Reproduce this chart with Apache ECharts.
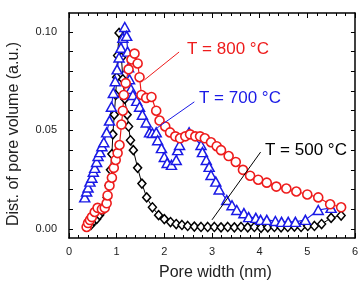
<!DOCTYPE html>
<html>
<head>
<meta charset="utf-8">
<script src="https://cdn.jsdelivr.net/npm/echarts@6/dist/echarts.min.js"></script>
<style>
  html, body { margin: 0; padding: 0; background: #fff; }
  #chart { width: 361px; height: 281px; }
</style>
</head>
<body>
<div id="chart"></div>
<script>
// pore width (nm) / distribution of pore volume (a.u.)
const blackX = [0.46,0.52,0.58,0.64,0.70,0.76,0.80,0.84,0.87,0.90,0.92,0.95,0.98,1.00,1.02,1.05,1.10,1.13,1.17,1.22,1.25,1.29,1.35,1.44,1.53,1.63,1.75,1.88,2.00,2.13,2.25,2.37,2.49,2.63,2.77,2.91,3.05,3.19,3.33,3.47,3.61,3.75,3.89,4.03,4.17,4.31,4.45,4.59,4.73,4.87,5.01,5.15,5.30,5.50,5.71];
const blackY = [0.002,0.004,0.005,0.007,0.009,0.012,0.016,0.022,0.030,0.038,0.048,0.058,0.068,0.077,0.088,0.0995,0.087,0.076,0.066,0.058,0.052,0.045,0.040,0.031,0.023,0.016,0.011,0.007,0.005,0.0035,0.0025,0.002,0.0015,0.0012,0.001,0.001,0.001,0.0008,0.001,0.0008,0.001,0.0008,0.001,0.0006,0.0008,0.001,0.0008,0.001,0.0012,0.001,0.0015,0.0015,0.0025,0.0056,0.0068];

const blueX = [0.33,0.37,0.40,0.44,0.48,0.51,0.54,0.58,0.61,0.65,0.69,0.73,0.79,0.85,0.89,0.93,0.97,1.01,1.05,1.09,1.13,1.17,1.21,1.23,1.25,1.27,1.30,1.34,1.42,1.48,1.54,1.62,1.69,1.75,1.83,1.86,1.94,2.00,2.06,2.15,2.25,2.28,2.32,2.52,2.77,2.80,2.88,2.94,2.98,3.08,3.15,3.31,3.42,3.52,3.67,3.77,3.92,4.02,4.15,4.33,4.46,4.60,4.75,4.96,5.23,5.50];
const blueY = [0.016,0.019,0.021,0.024,0.026,0.029,0.031,0.034,0.037,0.039,0.042,0.044,0.049,0.055,0.062,0.069,0.075,0.081,0.087,0.092,0.097,0.1025,0.098,0.090,0.082,0.076,0.071,0.068,0.065,0.062,0.058,0.054,0.049,0.0487,0.049,0.045,0.041,0.0365,0.0335,0.0325,0.035,0.040,0.0426,0.049,0.0426,0.039,0.035,0.0315,0.0274,0.024,0.020,0.0147,0.012,0.0096,0.008,0.006,0.0056,0.0046,0.0046,0.004,0.0036,0.0036,0.0036,0.0046,0.0096,0.0107];

const redX = [0.37,0.40,0.44,0.48,0.54,0.60,0.69,0.75,0.79,0.81,0.85,0.90,0.94,0.98,1.02,1.06,1.10,1.13,1.15,1.19,1.25,1.31,1.375,1.44,1.48,1.52,1.62,1.73,1.83,1.90,2.02,2.12,2.23,2.33,2.44,2.54,2.65,2.75,2.85,2.98,3.10,3.19,3.35,3.50,3.65,3.80,3.97,4.15,4.35,4.56,4.77,5.00,5.23,5.48,5.71];
const redY = [0.001,0.003,0.0045,0.006,0.0086,0.0107,0.010,0.0107,0.013,0.017,0.022,0.026,0.031,0.035,0.0385,0.0426,0.053,0.060,0.068,0.074,0.081,0.086,0.089,0.084,0.077,0.068,0.0665,0.067,0.060,0.055,0.052,0.049,0.047,0.046,0.047,0.048,0.047,0.047,0.046,0.044,0.042,0.040,0.037,0.034,0.030,0.027,0.025,0.0235,0.0215,0.0205,0.019,0.0175,0.016,0.0125,0.011];

const yLabelValues = [0, 0.05, 0.10];
const yTickValues = [0,0.01,0.02,0.03,0.04,0.05,0.06,0.07,0.08,0.09,0.10];

// pointer lines for the labels, in data units [x, y]
const redPointer = [[2.31, 0.0898], [1.58, 0.0756]];
const bluePointer = [[2.63, 0.0645], [1.85, 0.0513]];
const blackPointer = [[4.02, 0.039], [3.00, 0.0046]];

const RED = '#ee1c1c';
const BLUE = '#1a1ae6';
const BLACK = '#000';
const FONT = 'Liberation Sans, Arial, sans-serif';

const pairs = (xs, ys) => xs.map((x, i) => [x, ys[i]]);

const myChart = echarts.init(document.getElementById('chart'), null, { renderer: 'canvas' });

const xBase = {
  type: 'value',
  min: 0,
  max: 6,
  interval: 1,
  axisLine: { onZero: false, lineStyle: { color: BLACK, width: 1.5 } },
  axisTick: { inside: true, length: 5, lineStyle: { color: BLACK, width: 1 } },
  minorTick: { show: true, splitNumber: 5, length: 3, lineStyle: { color: BLACK, width: 1 } },
  splitLine: { show: false }
};

const yBase = {
  type: 'value',
  min: -0.0046,
  max: 0.1096,
  axisLine: { onZero: false, lineStyle: { color: BLACK, width: 1.5 } },
  axisTick: { inside: true, length: 4, customValues: yTickValues, lineStyle: { color: BLACK, width: 1 } },
  splitLine: { show: false }
};

const pointer = (pts, color) => ({
  silent: true,
  symbol: 'none',
  label: { show: false },
  lineStyle: { color: color, width: 1, type: 'solid' },
  data: [[{ coord: pts[0] }, { coord: pts[1] }]]
});

const option = {
  animation: false,
  backgroundColor: '#fff',
  grid: { left: 69, right: 4, top: 13, bottom: 43 },
  xAxis: [
    Object.assign({}, xBase, {
      position: 'bottom',
      axisLabel: { color: '#222', fontSize: 11, fontFamily: FONT, margin: 8 }
    }),
    Object.assign({}, xBase, { position: 'top', axisLabel: { show: false } })
  ],
  yAxis: [
    Object.assign({}, yBase, {
      position: 'left',
      axisLabel: {
        color: '#222', fontSize: 11, fontFamily: FONT, margin: 12,
        customValues: yLabelValues,
        formatter: v => v.toFixed(2)
      }
    }),
    Object.assign({}, yBase, { position: 'right', axisLabel: { show: false } })
  ],
  series: [
    {
      name: 'T = 500 °C',
      type: 'line',
      data: pairs(blackX, blackY),
      symbol: 'diamond',
      symbolSize: [8, 9],
      lineStyle: { color: BLACK, width: 1 },
      itemStyle: { color: '#fff', borderColor: BLACK, borderWidth: 1.5 },
      markLine: pointer(blackPointer, BLACK)
    },
    {
      name: 'T = 700 °C',
      type: 'line',
      data: pairs(blueX, blueY),
      symbol: 'triangle',
      symbolSize: [10, 9],
      lineStyle: { color: BLUE, width: 1.2 },
      itemStyle: { color: '#fff', borderColor: BLUE, borderWidth: 1.5 },
      markLine: pointer(bluePointer, BLUE)
    },
    {
      name: 'T = 800 °C',
      type: 'line',
      data: pairs(redX, redY),
      symbol: 'circle',
      symbolSize: 9,
      lineStyle: { color: RED, width: 1.2 },
      itemStyle: { color: '#fff', borderColor: RED, borderWidth: 1.6 },
      markLine: pointer(redPointer, RED)
    }
  ],
  graphic: [
    {
      type: 'text', left: 187, top: 41,
      style: { text: 'T = 800 °C', fill: RED, font: '17px ' + FONT }
    },
    {
      type: 'text', left: 199, top: 90,
      style: { text: 'T = 700 °C', fill: BLUE, font: '17px ' + FONT }
    },
    {
      type: 'text', left: 265, top: 142,
      style: { text: 'T = 500 °C', fill: BLACK, font: '17px ' + FONT }
    },
    {
      type: 'text', x: 159, y: 265,
      style: { text: 'Pore width (nm)', fill: '#222', font: '16px ' + FONT }
    },
    {
      type: 'text', x: 6, y: 226, rotation: Math.PI / 2,
      style: { text: 'Dist. of pore volume (a.u.)', fill: '#222', font: '16px ' + FONT }
    }
  ]
};

if (option && typeof option === 'object') {
  myChart.setOption(option);
}
</script>
</body>
</html>
